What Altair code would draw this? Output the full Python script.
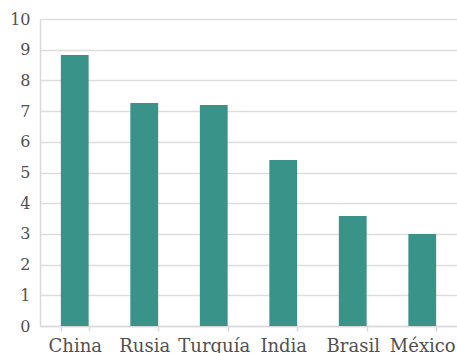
import altair as alt
import pandas as pd

countries = ["China", "Rusia", "Turquía", "India", "Brasil", "México"]
values = [8.83, 7.26, 7.2, 5.41, 3.58, 3.0]

df = pd.DataFrame({"pais": countries, "valor": values})

font = "DejaVu Serif"

chart = alt.Chart(df).mark_bar(color="#3a9388").encode(
    x=alt.X(
        "pais:N",
        sort=countries,
        title=None,
        scale=alt.Scale(paddingInner=0.6, paddingOuter=0.3),
        axis=alt.Axis(
            labelAngle=0,
            labelFont=font,
            labelFontSize=18,
            labelColor="#505050",
            labelPadding=6,
            domainColor="#d9d9d9",
            domainWidth=1.5,
            tickColor="#d9d9d9",
            tickWidth=1.5,
            tickSize=5,
            tickBand="extent",
        ),
    ),
    y=alt.Y(
        "valor:Q",
        title=None,
        scale=alt.Scale(domain=[0, 10]),
        axis=alt.Axis(
            values=list(range(0, 11)),
            labelFont=font,
            labelFontSize=16,
            labelColor="#505050",
            labelPadding=10,
            ticks=False,
            domainColor="#d9d9d9",
            domainWidth=1.5,
            gridColor="#dddddd",
            gridWidth=1.5,
        ),
    ),
).properties(
    width=417,
    height=307,
    autosize=alt.AutoSizeParams(type="none"),
    padding={"left": 40, "top": 19, "right": 0, "bottom": 27},
).configure_view(stroke=None)

chart.save("out.html", embed_options={"renderer": "svg", "actions": False})
